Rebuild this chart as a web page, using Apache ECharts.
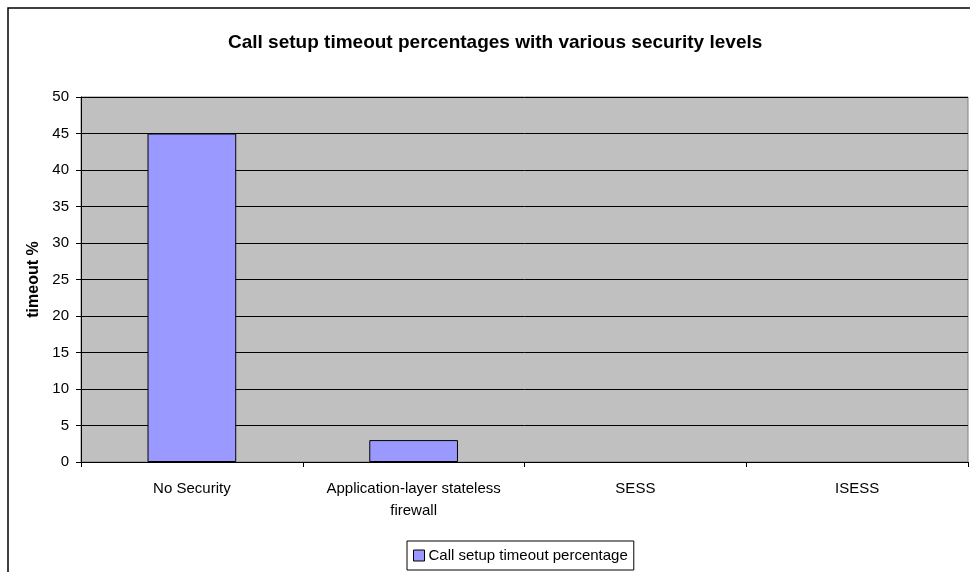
<!DOCTYPE html>
<html>
<head>
<meta charset="utf-8">
<script src="https://cdn.jsdelivr.net/npm/echarts@6/dist/echarts.min.js"></script>
<style>
  html, body { margin: 0; padding: 0; background: #fff; }
  #chart { width: 970px; height: 572px; }
</style>
</head>
<body>
<div id="chart"></div>
<script>
// Security levels and the measured call setup timeout percentages
const categories = ['No Security', 'Application-layer stateless\nfirewall', 'SESS', 'ISESS'];
const timeoutPct = [45, 3, 0, 0];
const seriesName = 'Call setup timeout percentage';
const yMin = 0, yMax = 50, yStep = 5;

const FONT = 'Liberation Sans, Arial, sans-serif';

const chart = echarts.init(document.getElementById('chart'));
chart.setOption({
  backgroundColor: '#ffffff',
  animation: false,
  textStyle: { fontFamily: FONT, color: '#000' },
  graphic: [{
    type: 'rect',
    shape: { x: 8, y: 8, width: 980, height: 590 },
    style: { fill: 'none', stroke: '#000', lineWidth: 1.5 },
    silent: true
  }],
  title: {
    text: 'Call setup timeout percentages with various security levels',
    left: 228,
    top: 33,
    padding: 0,
    textStyle: { fontSize: 19, fontWeight: 'bold', color: '#000', fontFamily: FONT }
  },
  grid: {
    left: 81, right: 2, top: 97, bottom: 110,
    show: true,
    backgroundColor: '#C0C0C0',
    borderColor: '#808080',
    borderWidth: 1
  },
  legend: {
    bottom: 2,
    left: 407,
    itemWidth: 11,
    itemHeight: 11,
    itemGap: 5,
    icon: 'rect',
    borderColor: '#000',
    borderWidth: 1,
    padding: [7, 6, 7, 6],
    textStyle: { fontSize: 15, color: '#000', fontFamily: FONT, padding: [0, 0, 0, -1] },
    itemStyle: { borderColor: '#000', borderWidth: 1 },
    data: [seriesName]
  },
  xAxis: {
    type: 'category',
    data: categories,
    axisLine: { lineStyle: { color: '#000', width: 1 } },
    axisTick: { show: true, alignWithLabel: false, length: 5, lineStyle: { color: '#000' } },
    axisLabel: { fontSize: 15, color: '#000', margin: 16, lineHeight: 22, interval: 0 },
    splitLine: { show: false }
  },
  yAxis: {
    type: 'value',
    min: yMin, max: yMax, interval: yStep,
    name: 'timeout %',
    nameLocation: 'middle',
    nameGap: 34,
    nameRotate: 90,
    nameTextStyle: { fontSize: 16, fontWeight: 'bold', color: '#000' },
    axisLine: { show: true, lineStyle: { color: '#000', width: 1 } },
    axisTick: { show: true, length: 5, lineStyle: { color: '#000' } },
    axisLabel: { fontSize: 15, color: '#000', margin: 12 },
    splitLine: { show: true, lineStyle: { color: '#000', width: 1 } }
  },
  series: [{
    name: seriesName,
    type: 'bar',
    // zero-height bars get no outline so they vanish into the axis
    data: timeoutPct.map(v => v === 0 ? { value: v, itemStyle: { borderWidth: 0 } } : v),
    barWidth: '40%',
    itemStyle: { color: '#9999FF', borderColor: '#000', borderWidth: 1 }
  }]
});
</script>
</body>
</html>
